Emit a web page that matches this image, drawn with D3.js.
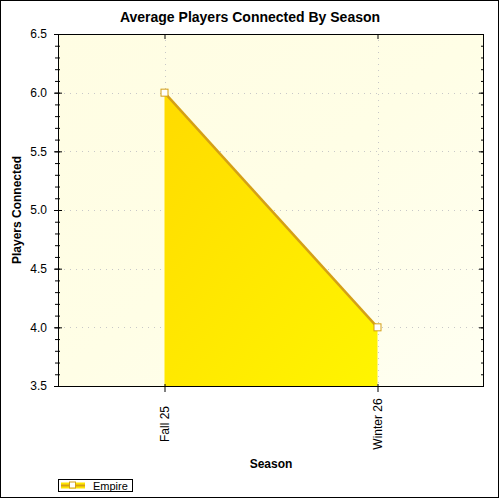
<!DOCTYPE html>
<html>
<head>
<meta charset="utf-8">
<script src="https://cdn.jsdelivr.net/npm/d3@7"></script>
<style>
  body { margin: 0; background: #fff; }
  text { font-family: "Liberation Sans", Arial, sans-serif; }
</style>
</head>
<body>
<div id="chart"></div>
<script>
// --- Data ---
const seasons = ["Fall 25", "Winter 26"];
const empireValues = [6.0, 4.0];
const seriesName = "Empire";
const yMajorTicks = [3.5, 4.0, 4.5, 5.0, 5.5, 6.0, 6.5];
const yMinorTicks = d3.range(35, 66).map(v => v / 10);

const width = 500, height = 500;
const margin = { top: 34, right: 16, bottom: 114, left: 58 };
const plotW = width - margin.left - margin.right;
const plotH = height - margin.top - margin.bottom;

const svg = d3.select("#chart").append("svg")
    .attr("width", width)
    .attr("height", height);

// gradients
const defs = svg.append("defs");
const bgGrad = defs.append("linearGradient")
    .attr("id", "bg").attr("x1", "0").attr("y1", "0").attr("x2", "1").attr("y2", "1");
bgGrad.append("stop").attr("offset", "0%").attr("stop-color", "#fffde3");
bgGrad.append("stop").attr("offset", "50%").attr("stop-color", "#fffee6");
bgGrad.append("stop").attr("offset", "100%").attr("stop-color", "#fffff2");

const areaGrad = defs.append("linearGradient")
    .attr("id", "areaFill").attr("gradientUnits", "userSpaceOnUse")
    .attr("x1", 0).attr("y1", 0).attr("x2", plotW).attr("y2", plotH);
areaGrad.append("stop").attr("offset", "0%").attr("stop-color", "#ffd200");
areaGrad.append("stop").attr("offset", "100%").attr("stop-color", "#fffb00");

// outer border
svg.append("rect")
    .attr("x", 0.5).attr("y", 0.5)
    .attr("width", width - 2).attr("height", height - 3)
    .attr("fill", "#fff").attr("stroke", "#000");

// title
svg.append("text")
    .attr("x", width / 2).attr("y", 22)
    .attr("text-anchor", "middle")
    .style("font-size", "14px").style("font-weight", "bold")
    .text("Average Players Connected By Season");

const g = svg.append("g").attr("transform", `translate(${margin.left},${margin.top})`);

// scales
const x = d3.scalePoint().domain(seasons).range([0, plotW]).padding(0.5);
const y = d3.scaleLinear().domain([3.5, 6.5]).range([plotH, 0]);

// background
g.append("rect")
    .attr("width", plotW).attr("height", plotH)
    .attr("fill", "url(#bg)");

// grid lines
g.append("g").selectAll("line")
    .data(yMajorTicks.slice(1, -1))
    .join("line")
    .attr("x1", 0).attr("x2", plotW)
    .attr("y1", d => Math.round(y(d)) + 0.5).attr("y2", d => Math.round(y(d)) + 0.5)
    .attr("stroke", "#c8c8c8").attr("stroke-dasharray", "1,5");

g.append("g").selectAll("line")
    .data(seasons)
    .join("line")
    .attr("x1", d => Math.round(x(d)) + 0.5).attr("x2", d => Math.round(x(d)) + 0.5)
    .attr("y1", 0).attr("y2", plotH)
    .attr("stroke", "#c8c8c8").attr("stroke-dasharray", "1,5");

// area + line
const pts = seasons.map((s, i) => ({ s, v: empireValues[i] }));
const area = d3.area().x(d => x(d.s)).y0(plotH).y1(d => y(d.v));
const line = d3.line().x(d => x(d.s)).y(d => y(d.v));

g.append("path").datum(pts)
    .attr("d", area)
    .attr("fill", "url(#areaFill)");

g.append("path").datum(pts)
    .attr("d", line)
    .attr("fill", "none")
    .attr("stroke", "#d4a017")
    .attr("stroke-width", 2.5);

g.append("g").selectAll("rect")
    .data(pts)
    .join("rect")
    .attr("x", d => x(d.s) - 3.5).attr("y", d => y(d.v) - 3.5)
    .attr("width", 7).attr("height", 7)
    .attr("fill", "#fff").attr("stroke", "#d4a017").attr("stroke-width", 1);

// axes
const tickStyle = sel => sel.selectAll("text").style("font-size", "12px").attr("fill", "#000");

// left axis: minor ticks
g.append("g")
    .call(d3.axisLeft(y).tickValues(yMinorTicks).tickSize(3).tickFormat(""))
    .call(a => a.select(".domain").remove())
    .call(a => a.selectAll("line").attr("x1", 2));
g.append("g")
    .call(d3.axisLeft(y).tickValues(yMajorTicks).tickSize(4).tickPadding(7).tickFormat(d3.format(".1f")))
    .call(a => a.selectAll(".tick line").attr("x1", 4).attr("x2", -4))
    .call(a => a.select(".domain").attr("d", `M0.5,0V${plotH}`))
    .call(tickStyle);

// right axis: inside ticks
g.append("g").attr("transform", `translate(${plotW},0)`)
    .call(d3.axisLeft(y).tickValues(yMinorTicks).tickSize(3).tickFormat(""))
    .call(a => a.select(".domain").remove());
g.append("g").attr("transform", `translate(${plotW},0)`)
    .call(d3.axisLeft(y).tickValues(yMajorTicks).tickSize(5).tickFormat(""))
    .call(a => a.select(".domain").attr("d", `M-0.5,0V${plotH}`));

// bottom axis
g.append("g").attr("transform", `translate(0,${plotH})`)
    .call(d3.axisBottom(x).tickSize(6).tickSizeOuter(0))
    .call(a => a.selectAll(".tick line").attr("y1", -2))
    .call(a => a.select(".domain").attr("d", `M0,0.5H${plotW}`))
    .call(tickStyle)
    .call(a => a.selectAll(".tick text")
        .attr("transform", "rotate(-90)")
        .attr("text-anchor", "middle")
        .attr("x", -38).attr("y", 0).attr("dy", "0.35em"));

// top axis
g.append("g")
    .call(d3.axisTop(x).tickSize(5).tickSizeOuter(0).tickFormat(""))
    .call(a => a.selectAll(".tick line").attr("y1", 0).attr("y2", 5))
    .call(a => a.select(".domain").attr("d", `M0,0.5H${plotW}`));

// axis labels
svg.append("text")
    .attr("x", margin.left + plotW / 2).attr("y", 468)
    .attr("text-anchor", "middle")
    .style("font-size", "12px").style("font-weight", "bold")
    .text("Season");

svg.append("text")
    .attr("transform", `translate(21,${margin.top + plotH / 2}) rotate(-90)`)
    .attr("text-anchor", "middle")
    .style("font-size", "12px").style("font-weight", "bold")
    .text("Players Connected");

// legend
const lg = svg.append("g").attr("transform", "translate(58,479)");
lg.append("rect").attr("x", 0.5).attr("y", 0.5).attr("width", 74).attr("height", 12)
    .attr("fill", "#fff").attr("stroke", "#000");
lg.append("rect").attr("x", 3).attr("y", 3.5).attr("width", 24).attr("height", 6)
    .attr("fill", "#ffe600");
lg.append("line").attr("x1", 3).attr("x2", 27).attr("y1", 6.5).attr("y2", 6.5)
    .attr("stroke", "#d4a017").attr("stroke-width", 2);
lg.append("rect").attr("x", 11.5).attr("y", 3).attr("width", 6).attr("height", 6)
    .attr("fill", "#fff").attr("stroke", "#d4a017");
lg.append("text").attr("x", 35).attr("y", 10.5)
    .style("font-size", "11px")
    .text(seriesName);
</script>
</body>
</html>
